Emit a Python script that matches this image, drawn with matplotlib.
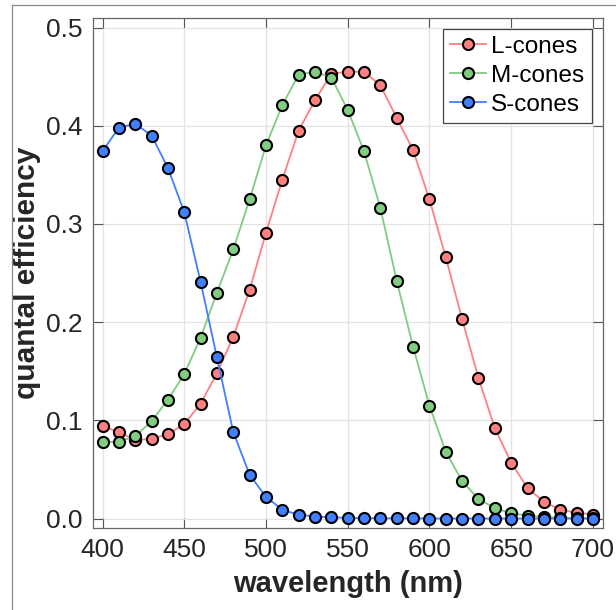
import matplotlib
matplotlib.use("Agg")
import matplotlib.pyplot as plt
from matplotlib.lines import Line2D

plt.rcParams['font.family'] = ['Liberation Sans', 'DejaVu Sans']

# Cone fundamentals sampled every 10 nm
wavelength = [400, 410, 420, 430, 440, 450, 460, 470, 480, 490,
              500, 510, 520, 530, 540, 550, 560, 570, 580, 590,
              600, 610, 620, 630, 640, 650, 660, 670, 680, 690, 700]

l_cones = [0.094, 0.088, 0.080, 0.081, 0.086, 0.096, 0.117, 0.148, 0.185, 0.233,
           0.291, 0.345, 0.395, 0.426, 0.453, 0.455, 0.455, 0.441, 0.408, 0.375,
           0.325, 0.266, 0.203, 0.143, 0.092, 0.057, 0.031, 0.017, 0.009, 0.006, 0.004]

m_cones = [0.078, 0.078, 0.084, 0.099, 0.121, 0.147, 0.184, 0.230, 0.274, 0.325,
           0.380, 0.421, 0.452, 0.455, 0.449, 0.416, 0.374, 0.316, 0.242, 0.175,
           0.115, 0.068, 0.038, 0.020, 0.0105, 0.0054, 0.003, 0.0015, 0.0008, 0.0004, 0.0002]

s_cones = [0.374, 0.398, 0.402, 0.390, 0.357, 0.312, 0.241, 0.164, 0.088, 0.0445,
           0.022, 0.009, 0.0037, 0.002, 0.0012, 0.0006, 0.0003, 0.0002, 0.0001, 0.0001,
           0.0, 0.0, 0.0, 0.0, 0.0, 0.0, 0.0, 0.0, 0.0, 0.0, 0.0]

series = [
    ("L-cones", l_cones, "#ff8080"),
    ("M-cones", m_cones, "#80cc80"),
    ("S-cones", s_cones, "#4080ff"),
]

x_ticks = [400, 450, 500, 550, 600, 650, 700]
y_ticks = [0.0, 0.1, 0.2, 0.3, 0.4, 0.5]

fig = plt.figure(figsize=(6.16, 6.10), dpi=100)
ax = fig.add_axes([0.1505, 0.1339, 0.8279, 0.8371])

for name, vals, col in series:
    ax.plot(wavelength, vals, '-o', color=col, lw=1.3, label=name,
            markersize=8.0, markerfacecolor=col, markeredgecolor='black',
            markeredgewidth=1.5)

ax.set_xlim(394, 706)
ax.set_ylim(-0.01, 0.51)
ax.set_xticks(x_ticks)
ax.set_yticks(y_ticks)
ax.set_yticklabels([f"{v:.1f}" for v in y_ticks])

ax.grid(True, color='#e3e3e3', linewidth=0.9)
ax.set_axisbelow(True)

ax.tick_params(direction='in', length=7, width=0.8, color='#555555',
               labelsize=19, labelcolor='#262626', pad=7,
               top=True, right=True)
for sp in ax.spines.values():
    sp.set_color('#666666')
    sp.set_linewidth(0.9)

ax.set_xlabel("wavelength (nm)", fontsize=21, fontweight='bold',
              color='#262626', labelpad=6)
ax.set_ylabel("quantal efficiency", fontsize=21.5, fontweight='bold',
              color='#262626', labelpad=4)

leg = ax.legend(loc='upper right', fontsize=17.5, fancybox=False,
                framealpha=1, edgecolor='#444444', borderpad=0.3,
                handlelength=1.5, handletextpad=0.2, labelspacing=0.28,
                borderaxespad=0.45)
leg.get_frame().set_linewidth(0.9)

# thin border lines at the top and left of the canvas
fig.add_artist(Line2D([11.5 / 616, 11.5 / 616], [0, 1 - 5 / 610],
                      transform=fig.transFigure, color='#8a8a8a', lw=0.9))
fig.add_artist(Line2D([11.5 / 616, 1], [1 - 5 / 610, 1 - 5 / 610],
                      transform=fig.transFigure, color='#8a8a8a', lw=0.9))

fig.savefig("out.png", dpi=100)
